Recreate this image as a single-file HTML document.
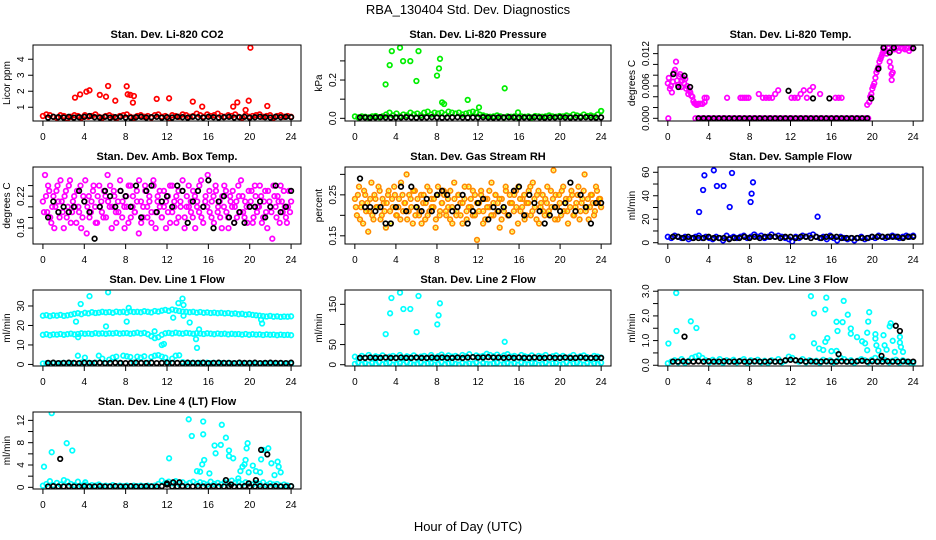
<!DOCTYPE html>
<html><head><meta charset="utf-8"><style>
html,body{margin:0;padding:0;background:#fff;}
svg{display:block;font-family:"Liberation Sans",Arial,sans-serif;}
</style></head><body>
<svg id="chart" width="936" height="540" viewBox="0 0 936 540">
<text x="468" y="14" text-anchor="middle" font-size="13">RBA_130404  Std. Dev. Diagnostics</text>
<text x="468" y="531" text-anchor="middle" font-size="13">Hour of Day (UTC)</text>
</svg>
<script>
// ---- data arrays ----
const xTicks=[0,4,8,12,16,20,24];
const co2Dense=[0.45,0.55,0.5,0.4,0.35,0.5,0.45,0.3,0.4,0.5,0.45,0.35,0.5,0.4,0.45,0.55,0.4,0.35,0.45,0.5,0.4,0.3,0.45,0.5,0.55,0.4,0.35,0.45,0.5,0.4,0.45,0.35,0.5,0.55,0.4,0.45,0.3,0.5,0.45,0.4,0.55,0.5,0.4,0.45,0.6,0.5,0.4,0.55,0.45,0.5,0.6,0.45,0.4,0.5,0.45,0.55,0.4,0.35,0.5,0.4,0.45,0.5,0.55,0.4,0.45,0.5,0.35,0.45,0.5,0.4,0.45,0.4];
const co2OutX=[3.1,3.6,4.2,4.5,5.5,6.1,6.3,7.0,8.1,8.2,8.45,8.7,8.8,11.0,12.2,14.5,15.4,18.4,18.8,19.6,19.9,20.07,21.7];
const co2OutY=[1.6,1.8,1.97,2.06,1.77,1.66,2.33,1.41,2.31,1.81,1.77,1.29,1.7,1.52,1.56,1.35,1.04,1.04,1.3,0.83,1.41,4.72,1.08];
const co2Black=[0.35,0.4,0.38,0.36,0.4,0.35,0.38,0.4,0.45,0.38,0.36,0.4,0.35,0.38,0.4,0.36,0.35,0.38,0.4,0.36,0.38,0.4,0.35,0.38,0.36,0.4,0.38,0.35,0.4,0.38,0.36,0.4,0.38,0.35,0.38,0.4,0.36,0.38,0.4,0.35,0.38,0.4,0.38,0.36,0.4,0.38,0.4,0.38];

const presDense=[0.01,0.005,0.01,0.008,0.005,0.01,0.012,0.006,0.01,0.02,0.03,0.015,0.025,0.01,0.02,0.015,0.03,0.02,0.025,0.015,0.03,0.035,0.02,0.03,0.025,0.03,0.02,0.035,0.03,0.025,0.03,0.02,0.025,0.03,0.035,0.03,0.02,0.015,0.01,0.008,0.01,0.015,0.01,0.005,0.01,0.008,0.01,0.005,0.01,0.008,0.01,0.005,0.012,0.01,0.008,0.01,0.015,0.01,0.008,0.012,0.01,0.015,0.01,0.02,0.015,0.01,0.02,0.012,0.015,0.01,0.02,0.038];
const presOutX=[3.0,3.4,3.6,4.4,4.7,5.4,6.0,6.2,8.0,8.2,8.3,8.5,8.7,11.0,12.1,14.6,15.9,24.0];
const presOutY=[0.177,0.278,0.351,0.369,0.299,0.299,0.195,0.351,0.223,0.261,0.311,0.083,0.075,0.096,0.057,0.157,0.031,0.038];
const presBlack=[0.005,0.005,0.004,0.005,0.006,0.005,0.004,0.005,0.005,0.006,0.005,0.004,0.005,0.005,0.006,0.005,0.004,0.005,0.005,0.006,0.005,0.004,0.005,0.005,0.006,0.005,0.004,0.005,0.005,0.006,0.005,0.004,0.005,0.005,0.006,0.005,0.004,0.005,0.005,0.006,0.005,0.004,0.005,0.005,0.006,0.005,0.004,0.005];

const tempEarlyX=[0.0,0.1,0.2,0.3,0.4,0.5,0.6,0.7,0.8,0.9,1.0,1.1,1.2,1.3,1.4,1.5,1.6,1.7,1.8,1.9,2.0,2.1,2.2,2.3,2.4,2.5,2.6,2.7,2.8,2.9,3.0,3.2,3.4,3.6,0.05];
const tempEarlyY=[0.0065,0.0075,0.0055,0.006,0.0048,0.0068,0.0085,0.009,0.0105,0.007,0.0062,0.0078,0.0082,0.0058,0.007,0.0075,0.0065,0.0073,0.0055,0.006,0.0045,0.0052,0.0048,0.0042,0.004,0.0032,0.0028,0.0027,0.0025,0.0025,0.0027,0.0027,0.0027,0.003,0.0];
const tempBandX=[3.6,3.8,5.8,7.1,7.3,7.5,7.7,7.9,8.9,9.3,9.6,9.9,10.2,10.5,10.8,12.1,12.4,12.7,13.0,13.3,13.6,13.9,14.2,14.9,16.4,16.7,17.0];
const tempBandY=[0.0038,0.0038,0.0038,0.0038,0.0038,0.0038,0.0038,0.0038,0.0045,0.0038,0.0038,0.0038,0.0038,0.0045,0.0052,0.0038,0.0038,0.0038,0.0045,0.0052,0.0038,0.0052,0.0058,0.0045,0.0038,0.0038,0.0038];
const tempZero=[0,0,0,0,0,0,0,0,0,0,0,0,0,0,0,0,0,0,0,0,0,0,0,0,0,0,0,0,0,0,0,0,0,0,0,0,0,0,0,0,0,0,0,0,0,0,0,0,0,0,0,0,0,0,0,0,0,0];
const tempLateX=[19.5,19.7,19.8,19.9,20.0,20.1,20.2,20.3,20.4,20.5,20.6,20.7,20.8,20.9,21.0,21.1,21.2,21.3,21.4,21.6,21.8,22.0,22.2,22.4,22.6,22.8,23.0,23.2,23.4,23.6,23.8,24.0,21.7,21.8,22.0,21.9,21.9];
const tempLateY=[0.0025,0.003,0.004,0.0045,0.0055,0.006,0.0065,0.0075,0.0085,0.009,0.0095,0.0105,0.011,0.0115,0.012,0.0125,0.013,0.0125,0.012,0.013,0.0125,0.013,0.0128,0.013,0.0125,0.013,0.013,0.0128,0.013,0.0125,0.013,0.013,0.0105,0.0095,0.0085,0.0082,0.0071];
const tempBlackX=[0.54,1.04,1.63,2.18,11.8,14.2,15.8,19.9,20.6,21.1,21.7,22.1,24.0];
const tempBlackY=[0.0082,0.0058,0.0079,0.0058,0.0051,0.0037,0.0037,0.0037,0.0092,0.0131,0.0122,0.0131,0.013];
const tempBlackZero=[0,0,0,0,0,0,0,0,0,0,0,0,0,0,0,0,0,0,0,0,0,0,0,0,0,0,0,0,0,0,0,0,0,0];

const ambDense1=[0.21,0.26,0.19,0.23,0.17,0.22,0.2,0.24,0.18,0.21,0.16,0.23,0.2,0.25,0.19,0.22,0.17,0.2,0.24,0.18,0.21,0.15,0.22,0.19,0.23,0.2,0.17,0.24,0.21,0.18,0.22,0.26,0.2,0.16,0.23,0.19,0.21,0.25,0.18,0.2,0.22,0.17,0.24,0.2,0.19,0.23,0.15,0.21,0.18,0.24,0.2,0.22,0.17,0.25,0.19,0.21,0.23,0.18,0.2,0.16,0.22,0.24,0.19,0.21,0.17,0.23,0.2,0.25,0.18,0.22,0.2,0.19,0.23,0.16,0.21,0.24,0.18,0.2,0.22,0.26,0.19,0.21,0.17,0.23,0.2,0.18,0.22,0.24,0.19,0.16,0.21,0.23,0.2,0.18,0.22,0.25,0.19,0.21,0.17,0.2,0.23,0.18,0.22,0.2,0.24,0.17,0.21,0.19,0.23,0.2,0.14,0.22,0.18,0.21,0.24,0.19,0.2,0.17,0.23,0.21];
const ambDense2=[0.19,0.22,0.24,0.18,0.2,0.16,0.23,0.21,0.25,0.19,0.22,0.18,0.24,0.17,0.21,0.2,0.23,0.19,0.16,0.22,0.25,0.2,0.18,0.21,0.24,0.17,0.22,0.2,0.19,0.23,0.18,0.21,0.24,0.2,0.22,0.17,0.19,0.23,0.21,0.16,0.2,0.24,0.18,0.22,0.19,0.21,0.25,0.17,0.2,0.23,0.18,0.21,0.19,0.24,0.16,0.22,0.2,0.18,0.23,0.21,0.19,0.17,0.24,0.2,0.22,0.18,0.21,0.23,0.16,0.2,0.24,0.21,0.18,0.22,0.2,0.19,0.25,0.17,0.21,0.2,0.23,0.18,0.22,0.24,0.19,0.21,0.16,0.2,0.23,0.18,0.22,0.2,0.17,0.21,0.24,0.19,0.22,0.18,0.2,0.23,0.21,0.17,0.24,0.19,0.2,0.22,0.18,0.23,0.16,0.21,0.19,0.24,0.2,0.22,0.17,0.21,0.23,0.18,0.2,0.19];
const ambBlack=[0.18,0.21,0.19,0.2,0.19,0.2,0.23,0.21,0.19,0.14,0.2,0.23,0.22,0.2,0.23,0.22,0.2,0.24,0.18,0.23,0.24,0.19,0.21,0.22,0.2,0.24,0.23,0.17,0.21,0.23,0.2,0.25,0.16,0.21,0.22,0.18,0.17,0.19,0.17,0.2,0.2,0.21,0.18,0.2,0.24,0.19,0.2,0.23];

const rhDense1=[0.24,0.2,0.27,0.22,0.18,0.25,0.23,0.21,0.28,0.19,0.24,0.22,0.26,0.2,0.23,0.17,0.25,0.21,0.24,0.27,0.2,0.22,0.19,0.25,0.23,0.3,0.21,0.24,0.18,0.26,0.22,0.2,0.25,0.23,0.19,0.27,0.21,0.24,0.22,0.17,0.25,0.2,0.23,0.26,0.21,0.24,0.19,0.22,0.28,0.2,0.25,0.23,0.18,0.24,0.21,0.27,0.22,0.2,0.25,0.14,0.23,0.26,0.21,0.19,0.24,0.22,0.28,0.2,0.25,0.23,0.17,0.24,0.21,0.26,0.2,0.23,0.16,0.25,0.22,0.27,0.21,0.24,0.19,0.23,0.26,0.2,0.28,0.22,0.25,0.18,0.23,0.21,0.24,0.27,0.2,0.22,0.31,0.25,0.19,0.23,0.26,0.21,0.24,0.18,0.22,0.25,0.2,0.23,0.27,0.21,0.24,0.3,0.22,0.19,0.25,0.23,0.21,0.26,0.24,0.22];
const rhDense2=[0.22,0.25,0.19,0.23,0.26,0.21,0.16,0.24,0.2,0.25,0.22,0.27,0.19,0.24,0.21,0.23,0.26,0.18,0.22,0.25,0.2,0.24,0.28,0.21,0.23,0.19,0.25,0.22,0.26,0.2,0.24,0.21,0.18,0.25,0.23,0.2,0.26,0.22,0.24,0.19,0.27,0.21,0.23,0.25,0.2,0.22,0.26,0.18,0.24,0.21,0.25,0.2,0.23,0.27,0.19,0.22,0.24,0.26,0.2,0.23,0.21,0.25,0.18,0.24,0.22,0.26,0.2,0.23,0.25,0.21,0.24,0.19,0.22,0.27,0.2,0.25,0.23,0.21,0.26,0.18,0.24,0.22,0.25,0.2,0.23,0.27,0.21,0.24,0.19,0.26,0.22,0.25,0.2,0.23,0.21,0.26,0.24,0.19,0.22,0.25,0.2,0.27,0.23,0.21,0.24,0.26,0.2,0.22,0.25,0.19,0.23,0.26,0.21,0.24,0.22,0.25,0.2,0.27,0.23,0.24];
const rhBlack=[0.29,0.22,0.22,0.21,0.22,0.18,0.18,0.22,0.27,0.21,0.27,0.22,0.21,0.24,0.21,0.25,0.26,0.25,0.21,0.22,0.25,0.18,0.21,0.23,0.24,0.19,0.22,0.21,0.22,0.2,0.26,0.27,0.2,0.25,0.23,0.21,0.18,0.2,0.22,0.21,0.23,0.28,0.21,0.25,0.22,0.18,0.23,0.23];

const flowDense=[5,4,6,5,4,5,3,4,5,6,4,5,4,3,5,4,2,6,4,5,4,5,6,4,5,7,5,6,4,5,7,5,6,5,4,3,1,5,4,6,5,6,7,5,4,5,3,6,4,2,5,4,3,4,2,4,5,3,4,5,4,6,5,4,5,6,5,4,5,6,5,6];
const flowOutX=[3.06,3.45,3.58,4.5,4.8,5.45,6.05,6.28,8.1,8.2,8.33,14.65];
const flowOutY=[26.2,44.9,57.4,61.7,48.3,48.3,30.4,59.4,34.7,41.8,51.5,22.2];
const flowBlack=[5,5,4,5,4,4,4,5,4,4,4,3,4,4,5,4,5,4,5,5,5,4,5,5,4,5,5,4,5,4,5,5,5,4,4,4,4,4,4,5,5,5,5,5,5,4,5,5];

const l1Top=[25,25.3,24.8,25.2,25,25.4,24.9,25.2,25.5,26,26.3,25.8,26.5,26.2,26.8,26.4,26.6,27,26.7,26.9,26.5,27.1,26.8,27,26.6,27.2,26.9,27,26.8,27.3,27,26.7,27.4,27.1,27.6,28,27.5,28.2,27.8,27.4,27.1,27,26.8,27,26.6,26.9,26.5,26.7,26.4,26.6,26.3,26.5,26.2,26.4,26,26.2,25.8,26,25.6,25.8,25.4,25.2,25,24.8,24.6,24.9,24.5,24.7,24.4,24.6,24.5,24.7];
const l1Mid=[15.2,15.5,15,15.4,15.3,15.6,15.2,15.5,15.8,15.4,15.6,16,15.7,15.9,15.6,16.1,15.8,16,15.7,16,15.9,16.2,15.8,16,16.1,15.7,16,16.3,15.9,16.2,15.5,14.5,13.5,14,15.2,16,16.2,15.9,16.3,16,15.8,16.2,16,15.7,16.1,15.9,15.6,16,15.8,15.5,15.9,15.6,15.8,15.4,15.7,15.5,15.6,15.3,15.6,15.2,15.5,15.3,15.4,15.1,15.4,15.2,15.3,15,15.3,15.1,15.2,15];
const l1Low=[0.5,0.6,0.4,0.7,0.5,0.6,0.8,0.5,0.7,0.6,4.5,1,3.5,0.8,0.6,0.9,4.5,3,0.7,2.5,3.5,4,0.8,4.5,4.2,3.8,1,4,3.5,4.2,0.8,3.8,4.5,4.8,4,3.5,1,3,4.5,4.7,1.2,0.8,0.6,0.9,0.7,0.8,0.6,0.9,0.7,0.8,0.5,0.7,0.6,0.8,0.5,0.6,0.7,0.5,0.6,0.4,0.5,0.6,0.4,0.5,0.6,0.4,0.5,0.4,0.6,0.4,0.5,0.4];
const l1OutX=[3.2,3.4,3.65,4.5,6.1,6.3,8.1,8.3,10.8,11.5,11.7,12.6,13.1,13.5,13.6,13.6,14.2,14.8,14.9,15.1,21.1,21.2];
const l1OutY=[22,14,31,35,19.5,37,22,29,17,10,10.5,24,31.5,33.8,30.5,25,21.5,13,8.5,18,23,21];
const l1Black=[0.8,0.9,0.7,0.8,0.9,0.8,0.7,0.9,0.8,0.8,0.9,0.7,0.8,0.9,0.8,0.7,0.8,0.9,0.8,0.8,0.9,0.7,0.8,0.9,0.8,0.8,0.7,0.9,0.8,0.8,0.9,0.7,0.8,0.9,0.8,0.8,0.7,0.9,0.8,0.8,0.9,0.7,0.8,0.9,0.8,0.8,0.7,0.9];

const l2Upper=[20,16,22,18,24,17,21,19,23,16,20,22,18,24,17,21,19,23,16,20,22,18,24,17,21,25,19,23,20,22,18,24,21,26,19,23,20,22,27,24,21,25,19,23,26,20,22,18,24,21,19,23,17,22,20,24,18,21,23,19,22,17,20,24,18,21,23,19,16,22,20,18];
const l2Lower=[2,5,1,3,0,4,2,6,1,3,5,0,2,4,1,6,3,0,2,5,1,3,4,0,2,6,1,3,5,2,0,4,1,3,2,5,0,4,2,1,3,5,0,2,4,1,3,0,5,2,1,4,3,0,2,5,1,3,4,0,2,6,1,3,5,2,0,4,1,3,2,5];
const l2OutX=[3.01,3.43,3.56,4.4,4.73,5.4,6.02,6.2,8.03,8.16,8.29,14.6];
const l2OutY=[76,127.7,165.7,179,138.4,138.4,81,170.7,100,122.6,152.5,57];
const l2Black=[17,17,18,17,17,18,17,17,18,17,17,18,17,17,18,17,18,17,17,18,17,18,19,18,18,19,18,18,17,18,17,18,17,17,18,17,17,18,17,17,18,17,17,18,17,17,17,17];

const l3Base=[0.08,0.15,0.2,0.12,0.25,0.1,0.18,0.3,0.35,0.4,0.3,0.2,0.12,0.22,0.15,0.25,0.1,0.2,0.15,0.22,0.12,0.18,0.25,0.1,0.2,0.15,0.22,0.12,0.18,0.1,0.2,0.15,0.25,0.12,0.18,0.35,0.3,0.2,0.15,0.25,0.12,0.2,0.15,0.18,0.1,0.22,0.15,0.2,0.12,0.18,0.3,0.25,0.15,0.2,0.1,0.18,0.25,0.2,0.12,0.22,0.3,0.15,0.25,0.2,0.12,0.18,0.22,0.1,0.2,0.15,0.12,0.1];
const l3OutX=[0.06,0.82,0.85,2.25,2.8,12.2,14.0,14.3,14.3,14.8,15.2,15.4,15.5,15.4,15.6,16.0,16.5,16.5,16.6,17.1,17.2,17.6,17.9,17.9,18.5,19.0,19.3,19.5,19.6,19.7,19.5,20.3,20.3,20.4,20.6,21.1,21.2,21.4,21.7,21.8,22.0,22.2,22.7,22.7,22.8,23.0];
const l3OutY=[0.88,2.93,1.39,1.78,1.51,1.16,2.8,2.1,0.89,0.68,0.62,2.26,2.74,0.95,1.1,0.57,0.58,1.76,1.39,1.75,2.61,2.05,1.49,1.28,1.14,0.97,0.89,1.32,1.77,2.15,0.61,1.26,1.08,0.81,0.6,1.22,0.81,0.63,1.58,1.7,0.99,0.54,1.15,0.92,0.74,0.54];
const l3Black=[0.15,0.15,0.16,0.15,0.15,0.16,0.15,0.16,0.15,0.15,0.16,0.15,0.15,0.16,0.15,0.15,0.16,0.15,0.15,0.16,0.15,0.15,0.2,0.22,0.2,0.18,0.15,0.16,0.15,0.15,0.16,0.15,0.15,0.16,0.15,0.15,0.16,0.18,0.15,0.16,0.15,0.15,0.16,0.15,0.15,0.16,0.15,0.15];
const l3BlackOutX=[1.63,16.7,20.9,22.3,22.7];
const l3BlackOutY=[1.16,0.45,0.38,1.6,1.39];

const l4Base=[0.3,0.6,1.1,0.4,0.8,0.5,1.3,1.0,0.6,0.4,1.0,0.3,0.5,0.2,0.4,0.3,0.5,0.2,0.3,0.2,0.4,0.2,0.3,0.2,0.3,0.2,0.3,0.2,0.3,0.2,0.3,0.2,0.3,0.6,1.2,0.8,1.0,0.7,1.1,0.6,0.9,0.5,0.8,1.0,0.6,0.9,0.7,0.5,1.0,0.6,0.8,0.5,0.9,0.7,1.2,0.8,1.0,0.6,0.9,0.7,0.5,0.8,0.6,0.9,0.4,0.7,0.5,0.6,0.3,0.5,0.3,0.2];
const l4OutX=[0.1,0.85,0.85,2.3,2.84,4.1,12.2,14.1,14.4,14.9,15.2,15.4,15.5,15.5,15.6,16.1,16.6,16.7,17.2,17.3,17.7,18.0,18.0,18.4,18.9,19.1,19.3,19.5,19.6,19.7,19.8,19.9,20.3,20.6,21.0,21.1,21.3,21.8,22.1,22.4,22.7,22.8,23.0];
const l4OutY=[3.7,13.3,6.3,7.9,6.6,0.9,5.2,12.2,9.2,2.9,2.8,4.1,9.5,11.8,4.9,2.5,7.5,6.1,7.6,11.2,8.9,6.6,5.6,5.2,1.6,2.9,3.7,4.1,4.9,7.0,7.9,2.7,3.9,2.9,2.7,5.0,6.7,7.0,4.3,2.2,4.6,3.7,2.7];
const l4Black=[0.15,0.2,0.15,0.15,0.2,0.15,0.15,0.2,0.15,0.15,0.2,0.15,0.15,0.2,0.15,0.15,0.2,0.15,0.15,0.2,0.15,0.15,0.2,0.5,0.15,0.15,0.2,0.15,0.15,0.2,0.15,0.15,0.2,0.15,0.15,0.2,0.15,0.15,0.2,0.15,0.15,0.2,0.15,0.15,0.2,0.15,0.15,0.2];
const l4BlackOutX=[1.67,12.0,12.6,13.2,17.7,18.2,19.9,20.6,21.1,21.7];
const l4BlackOutY=[5.1,0.7,0.9,0.9,1.3,0.5,0.7,1.3,6.7,5.9];

// ---- drawing ----
const NS='http://www.w3.org/2000/svg';
const svg=document.getElementById('chart');
const X0=-0.96,X1=24.96;
const cols=[[33,301],[345,611],[658,923]];
const rows=[[45,121],[167,244],[290,366],[412,489]];
function grid(from,to,ys){const n=ys.length;return ys.map((v,i)=>from+i*(to-from)/(n-1));}
function mk(tag,attrs,parent){const e=document.createElementNS(NS,tag);for(const k in attrs)e.setAttribute(k,attrs[k]);(parent||svg).appendChild(e);return e;}

function panel(key,col,row,ylim,yticks,ylabels,ylab,title,series){
  const b={l:cols[col][0],r:cols[col][1],t:rows[row][0],b:rows[row][1]};
  const sx=x=>b.l+(x-X0)/(X1-X0)*(b.r-b.l);
  const sy=y=>b.b-(y-ylim[0])/(ylim[1]-ylim[0])*(b.b-b.t);
  const g=mk('g',{});
  
  
  const t=mk('text',{x:(b.l+b.r)/2,y:b.t-7,'text-anchor':'middle','font-size':'11','font-weight':'bold'},g);
  t.textContent=title;
  
  
  const clip=mk('clipPath',{id:'c'+key},g);
  mk('rect',{x:b.l,y:b.t,width:b.r-b.l,height:b.b-b.t},clip);
  const pg=mk('g',{'clip-path':'url(#c'+key+')'},g);
  
  
  series.forEach(s=>{
    s.xs.forEach((x,i)=>{
      const c=mk('circle',{cx:sx(x).toFixed(1),cy:sy(s.ys[i]).toFixed(1),r:2.3,fill:'none',stroke:s.color,'stroke-width':1.7},pg);
      
      
      if(s.inner){mk('circle',{cx:sx(x).toFixed(1),cy:sy(s.ys[i]).toFixed(1),r:1,fill:s.inner},pg);}
    });
  });
  const box=mk('rect',{x:b.l,y:b.t,width:b.r-b.l,height:b.b-b.t,fill:'none',stroke:'#000','stroke-width':1},g);
  
  
  const xa=mk('g',{},g);
  
  
  mk('line',{x1:sx(xTicks[0]),x2:sx(xTicks[xTicks.length-1]),y1:b.b,y2:b.b,stroke:'#000'},xa);
  xTicks.forEach(v=>{
    mk('line',{x1:sx(v),x2:sx(v),y1:b.b,y2:b.b+5,stroke:'#000'},xa);
    const tl=mk('text',{x:sx(v),y:b.b+19,'text-anchor':'middle','font-size':'10'},xa);
    tl.textContent=v;
  });
  const ya=mk('g',{},g);
  
  
  mk('line',{x1:b.l,x2:b.l,y1:sy(yticks[0]),y2:sy(yticks[yticks.length-1]),stroke:'#000'},ya);
  yticks.forEach(v=>{mk('line',{x1:b.l,x2:b.l-5,y1:sy(v),y2:sy(v),stroke:'#000'},ya);});
  ylabels.forEach(l=>{
    const y=sy(parseFloat(l)),x=b.l-9;
    const tl=mk('text',{x:x,y:y,'text-anchor':'middle','font-size':'10',transform:'rotate(-90 '+x+' '+y+')'},ya);
    tl.textContent=l;
  });
  const yx=b.l-23,yy=(b.t+b.b)/2;
  const yl=mk('text',{x:yx,y:yy,'text-anchor':'middle','font-size':'10',transform:'rotate(-90 '+yx+' '+yy+')'},g);
  yl.textContent=ylab;
  
  
}
const S=(name,color,xs,ys,inner)=>({name,color,xs,ys,inner});

panel('co2',0,0,[0.14,4.89],[1,2,3,4],['1','2','3','4'],'Licor ppm','Stan. Dev. Li-820 CO2',[
 S('co2-point','#ff0000',grid(0,24,co2Dense),co2Dense),
 S('co2-point','#ff0000',co2OutX,co2OutY),
 S('co2-hourly-point','#000',grid(0.5,24,co2Black),co2Black)]);
panel('pressure',1,0,[-0.014,0.383],[0,0.1,0.2,0.3],['0.0','0.2'],'kPa','Stan. Dev. Li-820 Pressure',[
 S('pressure-point','#00ee00',grid(0,24,presDense),presDense),
 S('pressure-point','#00ee00',presOutX,presOutY),
 S('pressure-hourly-point','#000',grid(0.5,24,presBlack),presBlack)]);
panel('temp',2,0,[-0.0005,0.0136],[0,0.002,0.004,0.006,0.008,0.01,0.012],['0.000','0.006','0.012'],'degrees C','Stan. Dev. Li-820 Temp.',[
 S('temp-point','#ff00ff',tempEarlyX,tempEarlyY),
 S('temp-point','#ff00ff',tempBandX,tempBandY),
 S('temp-point','#ff00ff',grid(2.7,19.6,tempZero),tempZero),
 S('temp-point','#ff00ff',tempLateX,tempLateY),
 S('temp-hourly-point','#000',grid(3.0,19.5,tempBlackZero),tempBlackZero),
 S('temp-hourly-point','#000',tempBlackX,tempBlackY)]);
panel('ambtemp',0,1,[0.13,0.275],[0.16,0.18,0.2,0.22,0.24],['0.16','0.22'],'degrees C','Stan. Dev. Amb. Box Temp.',[
 S('ambtemp-point','#ff00ff',grid(0,24,ambDense1),ambDense1),
 S('ambtemp-point','#ff00ff',grid(0.1,23.9,ambDense2),ambDense2),
 S('ambtemp-hourly-point','#000',grid(0.5,24,ambBlack),ambBlack)]);
panel('rh',1,1,[0.13,0.318],[0.15,0.2,0.25,0.3],['0.15','0.25'],'percent','Stan. Dev. Gas Stream RH',[
 S('rh-point','#ff8c00',grid(0,24,rhDense1),rhDense1,'#ffff00'),
 S('rh-point','#ff8c00',grid(0.1,23.9,rhDense2),rhDense2,'#ffff00'),
 S('rh-hourly-point','#000',grid(0.5,24,rhBlack),rhBlack)]);
panel('sampleflow',2,1,[-1.1,64.5],[0,10,20,30,40,50,60],['0','20','40','60'],'ml/min','Stan. Dev. Sample Flow',[
 S('sampleflow-point','#0000ff',grid(0,24,flowDense),flowDense),
 S('sampleflow-point','#0000ff',flowOutX,flowOutY),
 S('sampleflow-hourly-point','#000',grid(0.5,24,flowBlack),flowBlack)]);
panel('line1',0,2,[-0.8,38.2],[0,10,20,30],['0','10','20','30'],'ml/min','Stan. Dev. Line 1 Flow',[
 S('line1-point','#00ffff',grid(0,24,l1Top),l1Top),
 S('line1-point','#00ffff',grid(0,24,l1Mid),l1Mid),
 S('line1-point','#00ffff',grid(0,24,l1Low),l1Low),
 S('line1-point','#00ffff',l1OutX,l1OutY),
 S('line1-hourly-point','#000',grid(0.5,24,l1Black),l1Black)]);
panel('line2',1,2,[-3.2,185.5],[0,50,100,150],['0','50','150'],'ml/min','Stan. Dev. Line 2 Flow',[
 S('line2-point','#00ffff',grid(0,24,l2Upper),l2Upper),
 S('line2-point','#00ffff',grid(0,24,l2Lower),l2Lower),
 S('line2-point','#00ffff',l2OutX,l2OutY),
 S('line2-hourly-point','#000',grid(0.5,24,l2Black),l2Black)]);
panel('line3',2,2,[-0.03,3.05],[0,0.5,1,1.5,2,2.5,3],['0.0','1.0','2.0','3.0'],'ml/min','Stan. Dev. Line 3 Flow',[
 S('line3-point','#00ffff',grid(0,24,l3Base),l3Base),
 S('line3-point','#00ffff',l3OutX,l3OutY),
 S('line3-hourly-point','#000',grid(0.5,24,l3Black),l3Black),
 S('line3-hourly-point','#000',l3BlackOutX,l3BlackOutY)]);
panel('line4',0,3,[-0.3,13.5],[0,2,4,6,8,10,12],['0','4','8','12'],'ml/min','Stan. Dev. Line 4 (LT) Flow',[
 S('line4-point','#00ffff',grid(0,24,l4Base),l4Base),
 S('line4-point','#00ffff',l4OutX,l4OutY),
 S('line4-hourly-point','#000',grid(0.5,24,l4Black),l4Black),
 S('line4-hourly-point','#000',l4BlackOutX,l4BlackOutY)]);
</script>
</body></html>
